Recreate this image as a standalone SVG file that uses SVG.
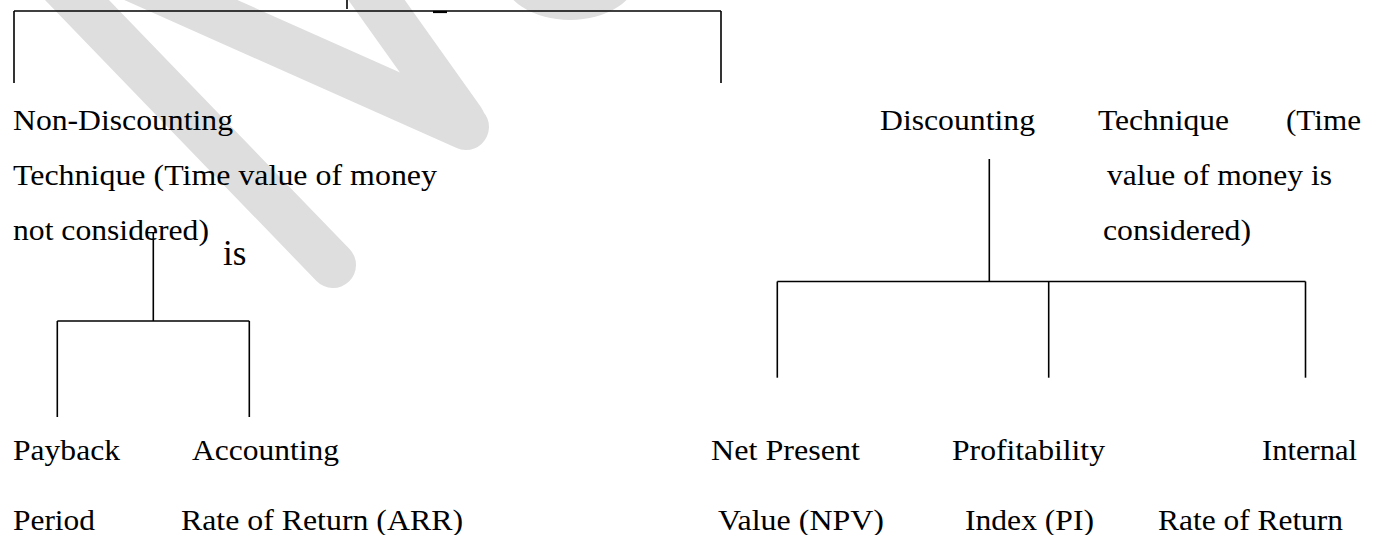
<svg xmlns="http://www.w3.org/2000/svg" width="1375" height="535" viewBox="0 0 1375 535">
<style>
.wm{stroke:#dedede;stroke-width:46;stroke-linecap:round;fill:none}
.ln{stroke:#000;stroke-width:1.6;fill:none}
text{font-family:"Liberation Serif","Times New Roman",serif;font-size:29px;fill:#000}
</style>
<rect width="1375" height="535" fill="#fff"/>
<g id="watermark">
<line class="wm" x1="48" y1="-30" x2="333" y2="265"/>
<line class="wm" x1="100" y1="-36" x2="466" y2="127"/>
<line class="wm" x1="348" y1="-40" x2="462" y2="120"/>
<ellipse cx="570" cy="-25" rx="68" ry="45" fill="#dedede"/>
</g>
<g id="connectors">
<line class="ln" x1="14" y1="11" x2="721" y2="11"/>
<line class="ln" x1="347" y1="0" x2="347" y2="9"/>
<line x1="433" y1="12" x2="447" y2="12" stroke="#000" stroke-width="2.2"/>
<line class="ln" x1="14" y1="11" x2="14" y2="83"/>
<line class="ln" x1="721" y1="11" x2="721" y2="83"/>
<line class="ln" x1="153.3" y1="233" x2="153.3" y2="321"/>
<line class="ln" x1="57.3" y1="321" x2="249.3" y2="321"/>
<line class="ln" x1="57.3" y1="321" x2="57.3" y2="417"/>
<line class="ln" x1="249.3" y1="321" x2="249.3" y2="417"/>
<line class="ln" x1="989.3" y1="159" x2="989.3" y2="281.5"/>
<line class="ln" x1="777.3" y1="281.5" x2="1305.5" y2="281.5"/>
<line class="ln" x1="777.3" y1="281.5" x2="777.3" y2="377.7"/>
<line class="ln" x1="1048.7" y1="281.5" x2="1048.7" y2="377.7"/>
<line class="ln" x1="1305.5" y1="281.5" x2="1305.5" y2="377.7"/>
</g>
<g id="non-discounting">
<text x="13" y="130" textLength="220" lengthAdjust="spacingAndGlyphs">Non-Discounting</text>
<text x="13" y="185" textLength="424" lengthAdjust="spacingAndGlyphs">Technique (Time value of money</text>
<text x="13" y="240" textLength="196" lengthAdjust="spacingAndGlyphs">not considered)</text>
</g>
<g id="is-label"><text x="223" y="265" style="font-size:35px">is</text></g>
<g id="discounting">
<text x="880" y="130" textLength="155" lengthAdjust="spacingAndGlyphs">Discounting</text>
<text x="1098" y="130" textLength="131" lengthAdjust="spacingAndGlyphs">Technique</text>
<text x="1286" y="130" textLength="75" lengthAdjust="spacingAndGlyphs">(Time</text>
<text x="1107" y="185" textLength="225" lengthAdjust="spacingAndGlyphs">value of money is</text>
<text x="1103" y="240" textLength="148" lengthAdjust="spacingAndGlyphs">considered)</text>
</g>
<g id="payback">
<text x="13" y="460" textLength="107" lengthAdjust="spacingAndGlyphs">Payback</text>
<text x="13" y="530" textLength="82" lengthAdjust="spacingAndGlyphs">Period</text>
</g>
<g id="arr">
<text x="192" y="460" textLength="147" lengthAdjust="spacingAndGlyphs">Accounting</text>
<text x="181" y="530" textLength="282" lengthAdjust="spacingAndGlyphs">Rate of Return (ARR)</text>
</g>
<g id="npv">
<text x="711" y="460" textLength="149" lengthAdjust="spacingAndGlyphs">Net Present</text>
<text x="718" y="530" textLength="166" lengthAdjust="spacingAndGlyphs">Value (NPV)</text>
</g>
<g id="pi">
<text x="952" y="460" textLength="153" lengthAdjust="spacingAndGlyphs">Profitability</text>
<text x="965" y="530" textLength="129" lengthAdjust="spacingAndGlyphs">Index (PI)</text>
</g>
<g id="irr">
<text x="1262" y="460" textLength="95" lengthAdjust="spacingAndGlyphs">Internal</text>
<text x="1158" y="530" textLength="185" lengthAdjust="spacingAndGlyphs">Rate of Return</text>
</g>
</svg>
